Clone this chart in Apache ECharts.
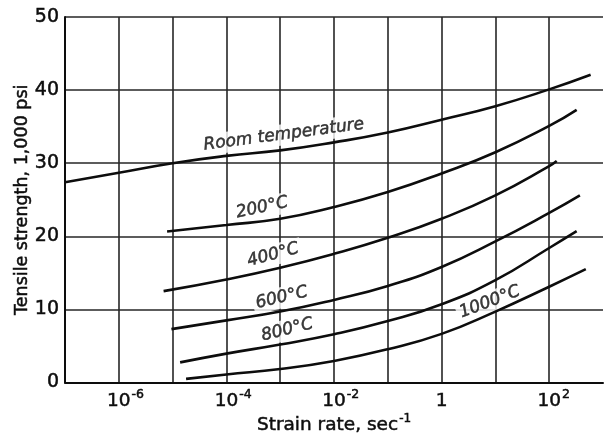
<!DOCTYPE html>
<html>
<head>
<meta charset="utf-8">
<script src="https://cdn.jsdelivr.net/npm/echarts@6/dist/echarts.min.js"></script>
<style>
  html, body { margin: 0; padding: 0; background: #fff; }
  #chart { width: 604px; height: 437px; }
</style>
</head>
<body>
<div id="chart"></div>
<script>
// Strain rate (sec^-1) and tensile strength (1,000 psi) for each test temperature
const roomRate = [1e-7, 1e-6, 1e-5, 1e-4, 1e-3, 1e-2, 1e-1, 1, 10, 100, 589];
const roomStrength = [27.4, 28.7, 30.0, 31.0, 31.75, 32.85, 34.2, 35.95, 37.8, 40.1, 42.1];

const c200Rate = [7.9e-6, 1e-4, 1e-3, 1e-2, 1e-1, 1, 10, 100, 324];
const c200Strength = [20.65, 21.55, 22.4, 24.0, 26.05, 28.6, 31.5, 35.1, 37.3];

const c400Rate = [6.8e-6, 1e-4, 1e-3, 1e-2, 1e-1, 1, 10, 100, 138];
const c400Strength = [12.5, 14.1, 15.7, 17.6, 19.8, 22.4, 25.6, 29.6, 30.3];

const c600Rate = [9.5e-6, 1e-4, 1e-3, 1e-2, 1e-1, 1, 10, 100, 372];
const c600Strength = [7.3, 8.5, 9.7, 11.3, 13.2, 15.8, 19.3, 23.2, 25.6];

const c800Rate = [1.38e-5, 1e-4, 1e-3, 1e-2, 1e-1, 1, 10, 100, 324];
const c800Strength = [2.75, 3.95, 5.2, 6.6, 8.4, 10.7, 14.0, 18.4, 20.7];

const c1000Rate = [1.78e-5, 1e-4, 1e-3, 1e-2, 1e-1, 1, 10, 100, 479];
const c1000Strength = [0.5, 1.1, 1.85, 2.95, 4.55, 6.65, 9.7, 13.1, 15.5];

// Curve captions, placed in data coordinates next to each curve
const captionText = ['Room temperature', '200°C', '400°C', '600°C', '800°C', '1000°C'];
const captionRate = [1.17e-3, 4.6e-4, 7.4e-4, 1.07e-3, 1.35e-3, 7.9];
const captionStrength = [33.9, 23.9, 17.45, 11.6, 7.2, 11.0];

// Decade ticks on the strain-rate axis and the ones that carry a label
const rateMin = 1e-7;
const rateMax = 1e3;
const labelledExponents = [-6, -4, -2, 0, 2];

// strength axis ticks
const strengthMin = 0;
const strengthMax = 50;
const strengthStep = 10;

const ink = '#0d0d0d';
const gridInk = '#262626';
const font = 'DejaVu Sans';
const captionAngle = [7.5, 12, 15, 13, 14, 21];

function pairs(xs, ys) {
  return xs.map((x, i) => [x, ys[i]]);
}

function curve(name, xs, ys) {
  return {
    name: name,
    type: 'line',
    z: 3,
    data: pairs(xs, ys),
    smooth: 0.5,
    showSymbol: false,
    symbol: 'none',
    lineStyle: { color: ink, width: 2.6 },
    silent: true
  };
}

const captionData = captionText.map((t, i) => ({
  value: [captionRate[i], captionStrength[i]],
  label: { formatter: t, rotate: captionAngle[i] }
}));

// slightly heavier strokes for the lettering
const heavy = { textBorderColor: ink, textBorderWidth: 0.5 };

const chart = echarts.init(document.getElementById('chart'), null, { renderer: 'canvas' });

const option = {
  animation: false,
  backgroundColor: '#fff',
  grid: { left: 65, right: 1, top: 17, bottom: 54.5, containLabel: false, outerBoundsMode: 'none' },
  xAxis: {
    type: 'log',
    logBase: 10,
    min: rateMin,
    max: rateMax,
    interval: 1,
    axisLine: { show: true, onZero: false, lineStyle: { color: ink, width: 2 } },
    axisTick: { show: false },
    splitLine: { show: true, showMinLine: false, showMaxLine: false, lineStyle: { color: gridInk, width: 1.6 } },
    axisLabel: {
      margin: 6,
      color: ink,
      fontFamily: font,
      fontSize: 18,
      showMinLabel: false,
      showMaxLabel: false,
      formatter: function (v) {
        const e = Math.round(Math.log10(v));
        if (labelledExponents.indexOf(e) < 0) return '';
        if (e === 0) return '{b|1}';
        const sup = e < 0 ? '-' + Math.abs(e) : String(e);
        return '{h|' + sup + '}{b|10}{s|' + sup + '}';
      },
      rich: {
        b: Object.assign({ fontFamily: font, fontSize: 18.5, color: ink, verticalAlign: 'bottom', lineHeight: 22 }, heavy),
        s: Object.assign({ fontFamily: font, fontSize: 12.5, color: ink, verticalAlign: 'top', lineHeight: 22, padding: [0, 0, 8, 1] }, heavy),
        h: { fontFamily: font, fontSize: 12.5, color: 'rgba(0,0,0,0)', lineHeight: 22, padding: [0, 1, 8, 0] }
      }
    },
    name: '{n|Strain rate, sec}{s|-1}',
    nameLocation: 'middle',
    nameGap: 30,
    nameMoveOverlap: false,
    nameTextStyle: {
      rich: {
        n: Object.assign({ fontFamily: font, fontSize: 18.5, color: ink, lineHeight: 22, verticalAlign: 'bottom' }, heavy),
        s: Object.assign({ fontFamily: font, fontSize: 12, color: ink, lineHeight: 22, verticalAlign: 'top', padding: [0, 0, 8, 1] }, heavy)
      }
    }
  },
  yAxis: {
    type: 'value',
    min: strengthMin,
    max: strengthMax,
    interval: strengthStep,
    axisLine: { show: true, onZero: false, lineStyle: { color: ink, width: 2 } },
    axisTick: { show: false },
    splitLine: { show: true, showMinLine: false, lineStyle: { color: gridInk, width: 1.6 } },
    axisLabel: Object.assign({ margin: 6, color: ink, fontFamily: font, fontSize: 19 }, heavy),
    name: 'Tensile strength, 1,000 psi',
    nameLocation: 'middle',
    nameRotate: 90,
    nameGap: 34,
    nameMoveOverlap: false,
    nameTextStyle: Object.assign({ fontFamily: font, fontSize: 17.5, color: ink }, heavy)
  },
  series: [
    curve('Room temperature', roomRate, roomStrength),
    curve('200°C', c200Rate, c200Strength),
    curve('400°C', c400Rate, c400Strength),
    curve('600°C', c600Rate, c600Strength),
    curve('800°C', c800Rate, c800Strength),
    curve('1000°C', c1000Rate, c1000Strength),
    {
      name: 'captions',
      type: 'scatter',
      z: 1,
      symbolSize: 0,
      silent: true,
      data: captionData,
      label: Object.assign({
        show: true,
        position: 'inside',
        color: ink,
        fontFamily: font,
        fontStyle: 'italic',
        fontSize: 17,
        backgroundColor: '#fff',
        padding: [2, 3]
      }, heavy)
    }
  ]
};

chart.setOption(option);
</script>
</body>
</html>
